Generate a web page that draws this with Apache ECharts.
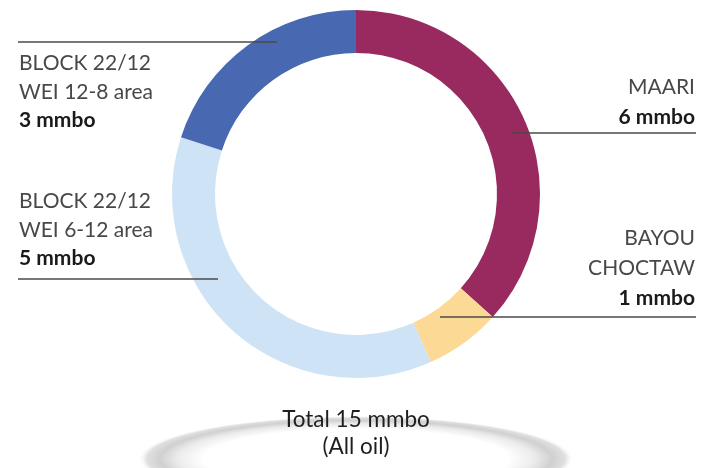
<!DOCTYPE html>
<html>
<head>
<meta charset="utf-8">
<script src="https://cdn.jsdelivr.net/npm/echarts@6/dist/echarts.min.js"></script>
<style>
  html, body { margin: 0; padding: 0; background: #ffffff; }
  #chart { width: 709px; height: 468px; }
</style>
</head>
<body>
<div id="chart"></div>
<script>
// ---- data ----
const fieldNames = ['MAARI', 'BAYOU\nCHOCTAW', 'BLOCK 22/12\nWEI 6-12 area', 'BLOCK 22/12\nWEI 12-8 area'];
const fieldValues = [5.5, 1, 5.5, 3];           // slice sizes (mmbo)
const fieldLabelAmounts = [6, 1, 5, 3];          // rounded amounts printed in the labels
const unit = 'mmbo';
const totalNote = '(All oil)';

// ---- styles / layout (kept separate from data) ----
const colors = ['#982A60', '#FCD994', '#CFE3F6', '#4868B1'];
const labelLayouts = [
  { x: 695, y: 72,  align: 'right', side: 'r', line: [[511, 133], [696, 133]] },
  { x: 695, y: 223, align: 'right', side: 'r', line: [[440, 317], [696, 317]] },
  { x: 19,  y: 187, align: 'left',  side: 'l', line: [[218, 279], [18, 279]] },
  { x: 19,  y: 49,  align: 'left',  side: 'l', line: [[277, 42],  [18, 42]] }
];

const total = fieldValues.reduce((a, b) => a + b, 0);
const chart = echarts.init(document.getElementById('chart'), null, { renderer: 'canvas' });

const font = 'Lato, "Open Sans", sans-serif';
const nameStyle = { fontSize: 21, color: '#484848', fontFamily: font };
const valStyle = { fontSize: 21, color: '#1a1a1a', fontFamily: font, fontWeight: 'bold' };

chart.setOption({
  backgroundColor: '#ffffff',
  animation: false,
  graphic: [
    {
      type: 'circle',
      x: 356, y: 459,
      scaleX: 4.36, scaleY: 0.86,
      shape: { cx: 0, cy: 0, r: 50 },
      style: {
        fill: new echarts.graphic.RadialGradient(0.5, 0.5, 0.5, [
          { offset: 0, color: '#ffffff' },
          { offset: 0.7, color: '#ffffff' },
          { offset: 0.82, color: '#ebebeb' },
          { offset: 0.9, color: '#d0d0d0' },
          { offset: 0.96, color: '#e0e0e0' },
          { offset: 1, color: 'rgba(255,255,255,0)' }
        ])
      },
      z: 0
    },
    {
      type: 'text',
      x: 356, y: 406,
      style: {
        text: 'Total ' + total + ' ' + unit + '\n' + totalNote,
        fill: '#1f1f1f',
        font: '22.5px ' + font,
        align: 'center',
        lineHeight: 27
      },
      z: 10
    }
  ].concat(labelLayouts.map(l => ({
    type: 'polyline',
    shape: { points: l.line },
    style: { stroke: '#4a4a4a', lineWidth: 1.4, fill: null },
    z: 20
  }))),
  series: [{
    type: 'pie',
    center: [356, 194],
    radius: [141, 184],
    startAngle: 90,
    clockwise: true,
    avoidLabelOverlap: false,
    color: colors,
    itemStyle: { borderWidth: 0 },
    label: {
      show: true,
      position: 'outside',
      formatter: function (p) {
        const s = labelLayouts[p.dataIndex].side;
        const lines = p.name.split('\n').map(t => '{n' + s + '|' + t + '}');
        lines.push('{v' + s + '|' + fieldLabelAmounts[p.dataIndex] + ' ' + unit + '}');
        return lines.join('\n');
      },
      rich: {
        nl: Object.assign({ lineHeight: 28.5 }, nameStyle),
        vl: Object.assign({ lineHeight: 28.5 }, valStyle),
        nr: Object.assign({ lineHeight: 30 }, nameStyle),
        vr: Object.assign({ lineHeight: 30 }, valStyle)
      }
    },
    labelLine: { show: false },
    labelLayout: function (params) {
      const l = labelLayouts[params.dataIndex];
      return { x: l.x, y: l.y, align: l.align, verticalAlign: 'top' };
    },
    emphasis: { disabled: true },
    data: fieldNames.map((n, i) => ({ name: n, value: fieldValues[i] }))
  }]
});
</script>
</body>
</html>
